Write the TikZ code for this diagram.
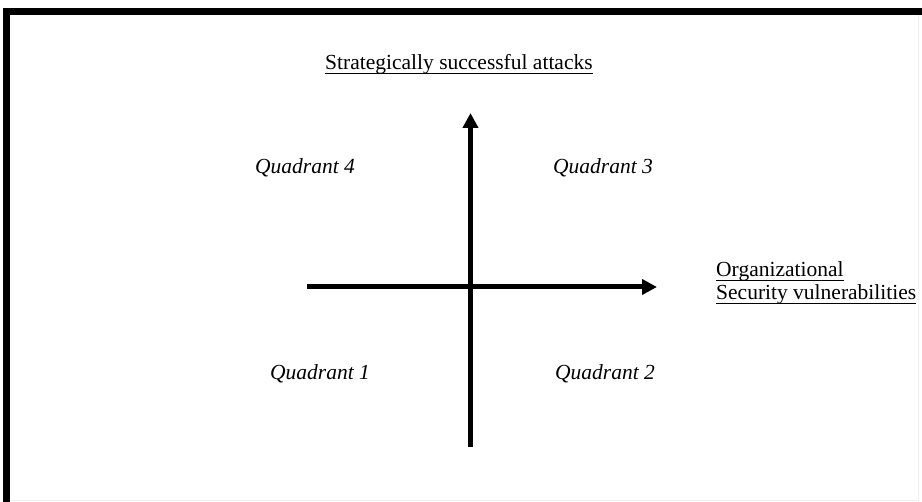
\documentclass[tikz,border=0pt]{standalone}
\usepackage{fontspec}
\setmainfont{Liberation Serif}
\usetikzlibrary{arrows.meta}

\newcommand{\wordul}[1]{\setbox0\hbox{#1}\rlap{\rule[-4pt]{\wd0}{1.4pt}}\box0}

\begin{document}
\begin{tikzpicture}[x=1pt, y=1pt, font=\fontsize{21.5}{25}\selectfont]
  \useasboundingbox (0,0) rectangle (922,502);
  % frame
  \draw[line width=7pt, miter limit=10] (6.7,0) -- (6.7,490.5) -- (922,490.5);
  \draw[gray!12, line width=1pt] (918,0) -- (918,487);
  \draw[gray!12, line width=1pt] (11,1.5) -- (918,1.5);
  % axes
  \coordinate (xl) at (307,215);
  \coordinate (xr) at (657,215);
  \coordinate (yb) at (470.5,55);
  \coordinate (yt) at (470.5,389);
  \draw[-{Triangle[length=15pt, width=15pt]}, line width=5pt] (xl) -- (xr);
  \draw[-{Triangle[length=15pt, width=15pt]}, line width=5pt] (yb) -- (yt);
  % labels
  \node[anchor=base west, inner sep=0pt] (title) at (325,432) {\wordul{Strategically successful attacks}};
  \node[anchor=base west, inner sep=0pt] (org) at (716,225) {\wordul{Organizational}};
  \node[anchor=base west, inner sep=0pt] (sec) at (716,202) {\wordul{Security vulnerabilities}};
  \node[anchor=base west, inner sep=0pt, font=\fontsize{21.5}{25}\selectfont\itshape] (q4) at (255,328) {Quadrant 4};
  \node[anchor=base west, inner sep=0pt, font=\fontsize{21.5}{25}\selectfont\itshape] (q3) at (553,328) {Quadrant 3};
  \node[anchor=base west, inner sep=0pt, font=\fontsize{21.5}{25}\selectfont\itshape] (q1) at (270,122) {Quadrant 1};
  \node[anchor=base west, inner sep=0pt, font=\fontsize{21.5}{25}\selectfont\itshape] (q2) at (555,122) {Quadrant 2};
\end{tikzpicture}
\end{document}
